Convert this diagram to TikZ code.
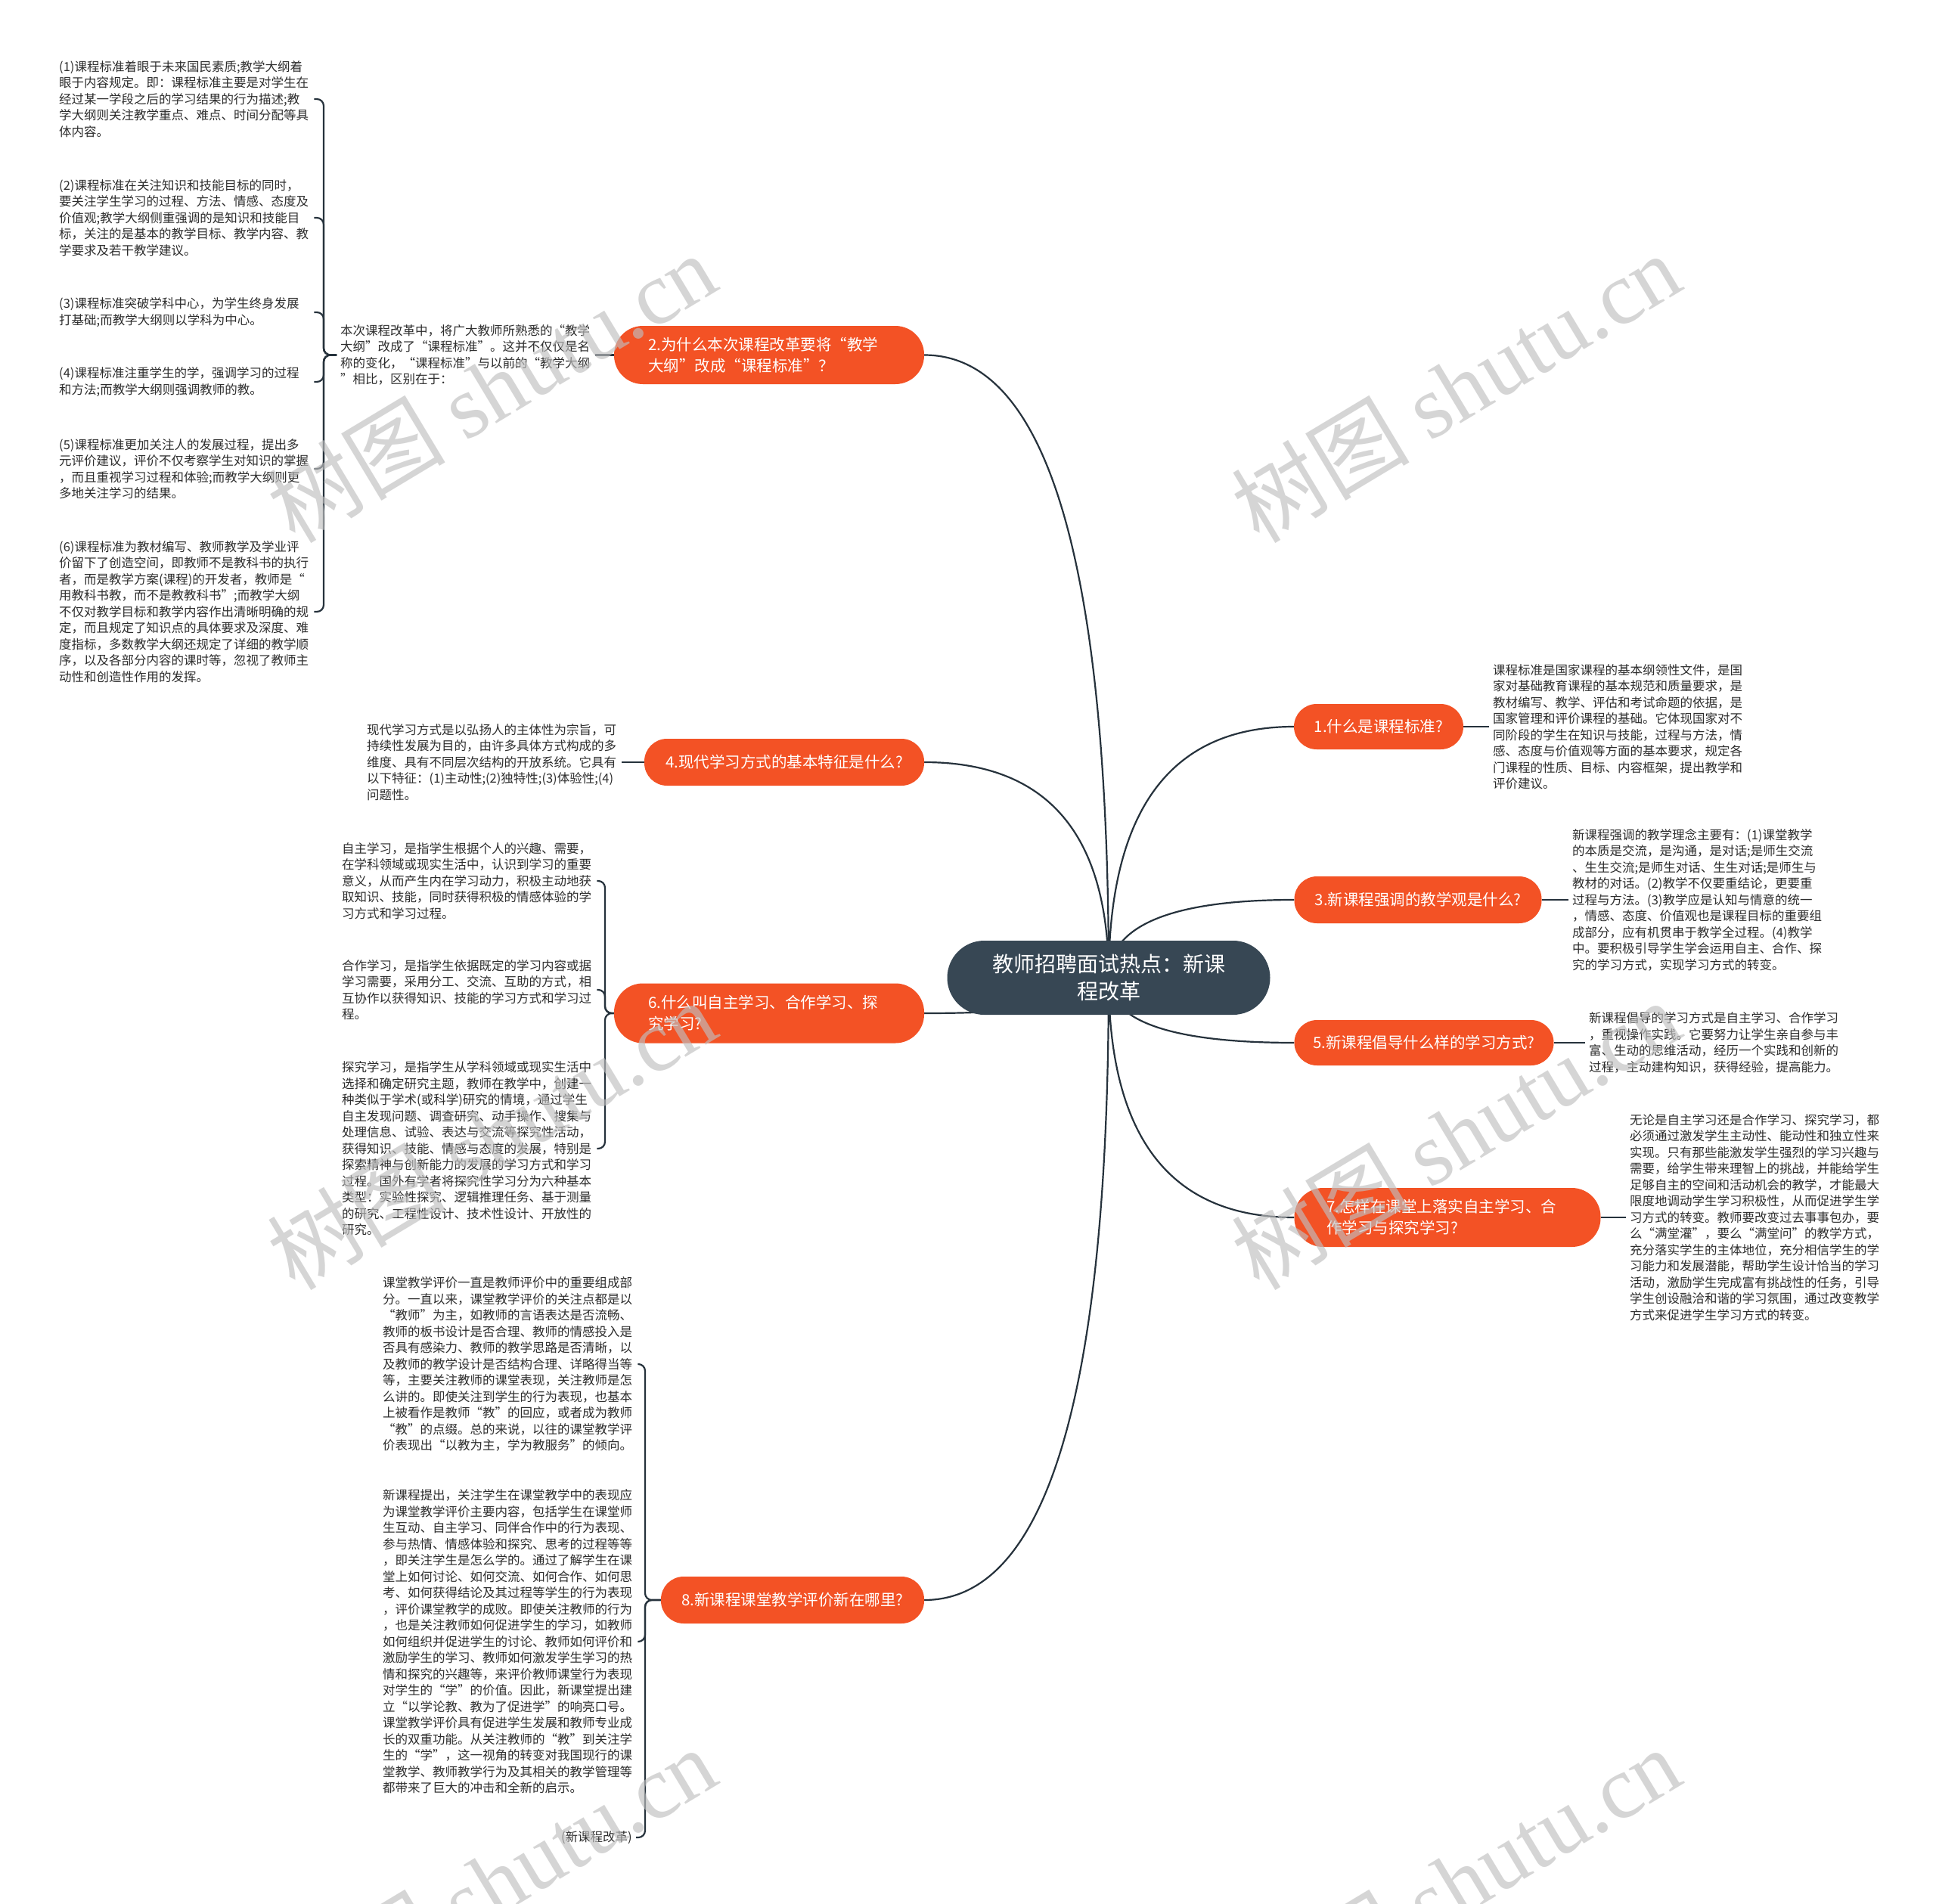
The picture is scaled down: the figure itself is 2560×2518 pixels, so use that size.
\documentclass[tikz,border=0pt]{standalone}
\usepackage{fontspec}
\setmainfont{Noto Sans CJK SC}
\newfontfamily\wmlatin{Liberation Serif}
\usetikzlibrary{calc,backgrounds}
\definecolor{orangeN}{RGB}{243,82,37}
\definecolor{rootC}{RGB}{55,71,84}
\definecolor{lineC}{RGB}{38,50,60}
\definecolor{txtC}{RGB}{45,45,45}
\begin{document}
\begin{tikzpicture}[x=1pt,y=1pt,
  desc/.style={anchor=west, align=left, text width=332pt, inner xsep=5pt, inner ysep=2pt,
    font=\fontsize{16.5}{21.5}\selectfont, text=txtC},
  descshort/.style={align=left, inner xsep=5pt, inner ysep=2pt,
    font=\fontsize{16.5}{21.5}\selectfont, text=txtC},
  rootbox/.style={fill=rootC, text=white, rounded corners=49pt, minimum width=427pt,
    minimum height=98pt, align=center, inner sep=0pt, font=\fontsize{28}{36}\selectfont},
  topic/.style={fill=orangeN, text=white, rounded corners=30pt, inner sep=0pt,
    align=center, font=\fontsize{20.5}{28}\selectfont},
  topictwo/.style={fill=orangeN, text=white, rounded corners=38pt, inner sep=0pt,
    text width=320pt, align=left, font=\fontsize{20.5}{28}\selectfont},
  conn/.style={draw=lineC, line width=2.2pt},
  brk/.style={conn, rounded corners=9pt},
  wm/.style={rotate=31, text=black!25, opacity=0.65, font=\fontsize{118}{118}\selectfont}
]
\useasboundingbox (0,0) rectangle (2560,-2518);

% root
\node[rootbox] (root) at (1466,-1293) {教师招聘面试热点：新课\\程改革};

% topics
\node[topictwo, minimum width=410pt, minimum height=77pt] (n2) at (1017,-469.5) {2.为什么本次课程改革要将“教学\\大纲”改成“课程标准”？};
\node[topic, minimum width=370pt, minimum height=62pt] (n4) at (1037,-1008) {4.现代学习方式的基本特征是什么?};
\node[topictwo, minimum width=410pt, minimum height=79pt] (n6) at (1017,-1340) {6.什么叫自主学习、合作学习、探\\究学习?};
\node[topic, minimum width=348pt, minimum height=62pt] (n8) at (1048,-2116) {8.新课程课堂教学评价新在哪里?};
\node[topic, minimum width=224pt, minimum height=60pt] (n1) at (1823,-961) {1.什么是课程标准?};
\node[topic, minimum width=327pt, minimum height=62pt] (n3) at (1875,-1190) {3.新课程强调的教学观是什么?};
\node[topic, minimum width=343pt, minimum height=60pt] (n5) at (1883,-1379) {5.新课程倡导什么样的学习方式?};
\node[topictwo, minimum width=405pt, minimum height=78pt] (n7) at (1914,-1610) {7.怎样在课堂上落实自主学习、合\\作学习与探究学习?};

% topic 2 texts
\node[desc] (i2) at (445,-469.5) {本次课程改革中，将广大教师所熟悉的“教学\\大纲”改成了“课程标准”。这并不仅仅是名\\称的变化，“课程标准”与以前的“教学大纲\\”相比，区别在于：};
\node[desc] (t1) at (73,-131) {(1)课程标准着眼于未来国民素质;教学大纲着\\眼于内容规定。即：课程标准主要是对学生在\\经过某一学段之后的学习结果的行为描述;教\\学大纲则关注教学重点、难点、时间分配等具\\体内容。};
\node[desc] (t2) at (73,-288) {(2)课程标准在关注知识和技能目标的同时，\\要关注学生学习的过程、方法、情感、态度及\\价值观;教学大纲侧重强调的是知识和技能目\\标，关注的是基本的教学目标、教学内容、教\\学要求及若干教学建议。};
\node[desc] (t3) at (73,-413) {(3)课程标准突破学科中心，为学生终身发展\\打基础;而教学大纲则以学科为中心。};
\node[desc] (t4) at (73,-505) {(4)课程标准注重学生的学，强调学习的过程\\和方法;而教学大纲则强调教师的教。};
\node[desc] (t5) at (73,-620) {(5)课程标准更加关注人的发展过程，提出多\\元评价建议，评价不仅考察学生对知识的掌握\\，而且重视学习过程和体验;而教学大纲则更\\多地关注学习的结果。};
\node[desc] (t6) at (73,-809) {(6)课程标准为教材编写、教师教学及学业评\\价留下了创造空间，即教师不是教科书的执行\\者，而是教学方案(课程)的开发者，教师是“\\用教科书教，而不是教教科书”;而教学大纲\\不仅对教学目标和教学内容作出清晰明确的规\\定，而且规定了知识点的具体要求及深度、难\\度指标，多数教学大纲还规定了详细的教学顺\\序，以及各部分内容的课时等，忽视了教师主\\动性和创造性作用的发挥。};

% topic 4 text
\node[desc] (i4) at (480,-1008) {现代学习方式是以弘扬人的主体性为宗旨，可\\持续性发展为目的，由许多具体方式构成的多\\维度、具有不同层次结构的开放系统。它具有\\以下特征：(1)主动性;(2)独特性;(3)体验性;(4)\\问题性。};

% topic 6 texts
\node[desc] (s6a) at (447,-1165) {自主学习，是指学生根据个人的兴趣、需要，\\在学科领域或现实生活中，认识到学习的重要\\意义，从而产生内在学习动力，积极主动地获\\取知识、技能，同时获得积极的情感体验的学\\习方式和学习过程。};
\node[desc] (s6b) at (447,-1309) {合作学习，是指学生依据既定的学习内容或据\\学习需要，采用分工、交流、互助的方式，相\\互协作以获得知识、技能的学习方式和学习过\\程。};
\node[desc] (s6c) at (447,-1519) {探究学习，是指学生从学科领域或现实生活中\\选择和确定研究主题，教师在教学中，创建一\\种类似于学术(或科学)研究的情境，通过学生\\自主发现问题、调查研究、动手操作、搜集与\\处理信息、试验、表达与交流等探究性活动，\\获得知识、技能、情感与态度的发展，特别是\\探索精神与创新能力的发展的学习方式和学习\\过程。国外有学者将探究性学习分为六种基本\\类型：实验性探究、逻辑推理任务、基于测量\\的研究、工程性设计、技术性设计、开放性的\\研究。};

% topic 8 texts
\node[desc] (s8a) at (501,-1804) {课堂教学评价一直是教师评价中的重要组成部\\分。一直以来，课堂教学评价的关注点都是以\\“教师”为主，如教师的言语表达是否流畅、\\教师的板书设计是否合理、教师的情感投入是\\否具有感染力、教师的教学思路是否清晰，以\\及教师的教学设计是否结构合理、详略得当等\\等，主要关注教师的课堂表现，关注教师是怎\\么讲的。即使关注到学生的行为表现，也基本\\上被看作是教师“教”的回应，或者成为教师\\“教”的点缀。总的来说，以往的课堂教学评\\价表现出“以教为主，学为教服务”的倾向。};
\node[desc] (s8b) at (501,-2171) {新课程提出，关注学生在课堂教学中的表现应\\为课堂教学评价主要内容，包括学生在课堂师\\生互动、自主学习、同伴合作中的行为表现、\\参与热情、情感体验和探究、思考的过程等等\\，即关注学生是怎么学的。通过了解学生在课\\堂上如何讨论、如何交流、如何合作、如何思\\考、如何获得结论及其过程等学生的行为表现\\，评价课堂教学的成败。即使关注教师的行为\\，也是关注教师如何促进学生的学习，如教师\\如何组织并促进学生的讨论、教师如何评价和\\激励学生的学习、教师如何激发学生学习的热\\情和探究的兴趣等，来评价教师课堂行为表现\\对学生的“学”的价值。因此，新课堂提出建\\立“以学论教、教为了促进学”的响亮口号。\\课堂教学评价具有促进学生发展和教师专业成\\长的双重功能。从关注教师的“教”到关注学\\生的“学”，这一视角的转变对我国现行的课\\堂教学、教师教学行为及其相关的教学管理等\\都带来了巨大的冲击和全新的启示。};
\node[descshort, anchor=east] (s8c) at (841,-2430) {(新课程改革)};

% right texts
\node[desc] (r1) at (1969,-961) {课程标准是国家课程的基本纲领性文件，是国\\家对基础教育课程的基本规范和质量要求，是\\教材编写、教学、评估和考试命题的依据，是\\国家管理和评价课程的基础。它体现国家对不\\同阶段的学生在知识与技能，过程与方法，情\\感、态度与价值观等方面的基本要求，规定各\\门课程的性质、目标、内容框架，提出教学和\\评价建议。};
\node[desc] (r3) at (2074,-1190) {新课程强调的教学理念主要有：(1)课堂教学\\的本质是交流，是沟通，是对话;是师生交流\\、生生交流;是师生对话、生生对话;是师生与\\教材的对话。(2)教学不仅要重结论，更要重\\过程与方法。(3)教学应是认知与情意的统一\\，情感、态度、价值观也是课程目标的重要组\\成部分，应有机贯串于教学全过程。(4)教学\\中。要积极引导学生学会运用自主、合作、探\\究的学习方式，实现学习方式的转变。};
\node[desc] (r5) at (2096,-1379) {新课程倡导的学习方式是自主学习、合作学习\\，重视操作实践。它要努力让学生亲自参与丰\\富、生动的思维活动，经历一个实践和创新的\\过程，主动建构知识，获得经验，提高能力。};
\node[desc] (r7) at (2150,-1610) {无论是自主学习还是合作学习、探究学习，都\\必须通过激发学生主动性、能动性和独立性来\\实现。只有那些能激发学生强烈的学习兴趣与\\需要，给学生带来理智上的挑战，并能给学生\\足够自主的空间和活动机会的教学，才能最大\\限度地调动学生学习积极性，从而促进学生学\\习方式的转变。教师要改变过去事事包办，要\\么“满堂灌”，要么“满堂问”的教学方式，\\充分落实学生的主体地位，充分相信学生的学\\习能力和发展潜能，帮助学生设计恰当的学习\\活动，激励学生完成富有挑战性的任务，引导\\学生创设融洽和谐的学习氛围，通过改变教学\\方式来促进学生学习方式的转变。};

% bracket points
\coordinate (k2) at (428,-469.5);
\coordinate (k6) at (800,-1340);
\coordinate (k8) at (853,-2116);

\begin{scope}[on background layer]
  \fill[white] (0,0) rectangle (2560,-2518);
  \foreach \n/\a in {n2/east, n4/east, n6/east, n8/east, n1/west, n3/west, n5/west, n7/west} {
    \coordinate (kk) at (root.center |- \n.\a);
    \draw[conn] (root.center) .. controls ($(root.center)!0.667!(kk)$) and ($(\n.\a)!0.667!(kk)$) .. (\n.\a);
  }
  \draw[conn] (i2.east) -- (n2.west);
  \draw[conn] (i4.east) -- (n4.west);
  \draw[conn] (n1.east) -- (r1.west);
  \draw[conn] (n3.east) -- (r3.west);
  \draw[conn] (n5.east) -- (r5.west);
  \draw[conn] (n7.east) -- (r7.west);
  \foreach \t in {t1,t2,t3,t4,t5,t6} \draw[brk] (i2.west) -- (k2) |- (\t.east);
  \foreach \t in {s6a,s6b,s6c} \draw[brk] (n6.west) -- (k6) |- (\t.east);
  \foreach \t in {s8a,s8b,s8c} \draw[brk] (n8.west) -- (k8) |- (\t.east);
\end{scope}

% watermarks
\foreach \x/\y [count=\i] in {650/-512, 1925/-512, 650/-1500, 1925/-1500, 650/-2488, 1925/-2488}
  \node[wm] (wm\i) at (\x,\y) {树图 {\wmlatin shutu.cn}};
\end{tikzpicture}
\end{document}
